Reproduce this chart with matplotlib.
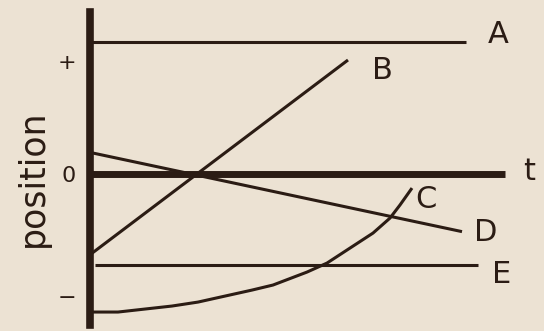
import matplotlib
matplotlib.use("Agg")
import matplotlib.pyplot as plt

# values (t in arbitrary units, position: + ~ 1, - ~ -1)
a_t = [0.0, 9.4]
a_pos = [1.1, 1.1]

b_t = [0.05, 6.45]
b_pos = [-0.66, 0.95]

c_t = [0.05, 0.7, 1.375, 2.05, 2.7, 3.375, 4.05, 4.575, 5.425, 5.925,
       6.5, 7.075, 7.5, 7.75, 8.05]
c_pos = [-1.15, -1.15, -1.125, -1.1, -1.067, -1.017, -0.967, -0.925, -0.817,
         -0.742, -0.617, -0.492, -0.367, -0.258, -0.117]

d_t = [0.0, 9.3]
d_pos = [0.18, -0.48]

e_t = [0.12, 9.7]
e_pos = [-0.76, -0.76]

labels = ["A", "B", "C", "D", "E"]
label_t = [10.2, 7.3, 8.4, 9.9, 10.3]
label_pos = [1.16, 0.86, -0.21, -0.49, -0.84]

tick_pos = [0.94, 0.0, -1.02]
tick_text = ["+", "0", "\u2212"]

t_end = 10.375

bg = "#ece2d3"
ink = "#2b1c14"

fig = plt.figure(figsize=(5.44, 3.31), dpi=100)
fig.patch.set_facecolor(bg)
ax = fig.add_axes([90 / 544, 6 / 331, 454 / 544, 313 / 331])
ax.set_facecolor(bg)
ax.set_xlim(0, 454 / 40)
ax.set_ylim(-1.258, 1.35)

for s in ["top", "right", "bottom"]:
    ax.spines[s].set_visible(False)
ax.spines["left"].set_linewidth(5.5)
ax.spines["left"].set_color(ink)

# time axis
ax.plot([0, t_end], [0, 0], color=ink, lw=5, solid_capstyle="butt")

lw = 2.2
for t, p in [(a_t, a_pos), (b_t, b_pos), (c_t, c_pos), (d_t, d_pos), (e_t, e_pos)]:
    ax.plot(t, p, color=ink, lw=lw, solid_capstyle="butt", solid_joinstyle="round")

for lab, t, p in zip(labels, label_t, label_pos):
    ax.text(t, p, lab, color=ink, fontsize=22, ha="center", va="center")
ax.text(10.98, 0.02, "t", color=ink, fontsize=22, ha="center", va="center",
        clip_on=False)

ax.set_xticks([])
ax.set_yticks(tick_pos)
ax.set_yticklabels(tick_text, fontsize=16, color=ink)
ax.tick_params(axis="y", length=0, pad=10)

ax.set_ylabel("position", fontsize=25, color=ink)
ax.yaxis.set_label_coords(-40 / 454, (325 - 178) / 313)

fig.savefig("out.png", dpi=100, facecolor=bg)
